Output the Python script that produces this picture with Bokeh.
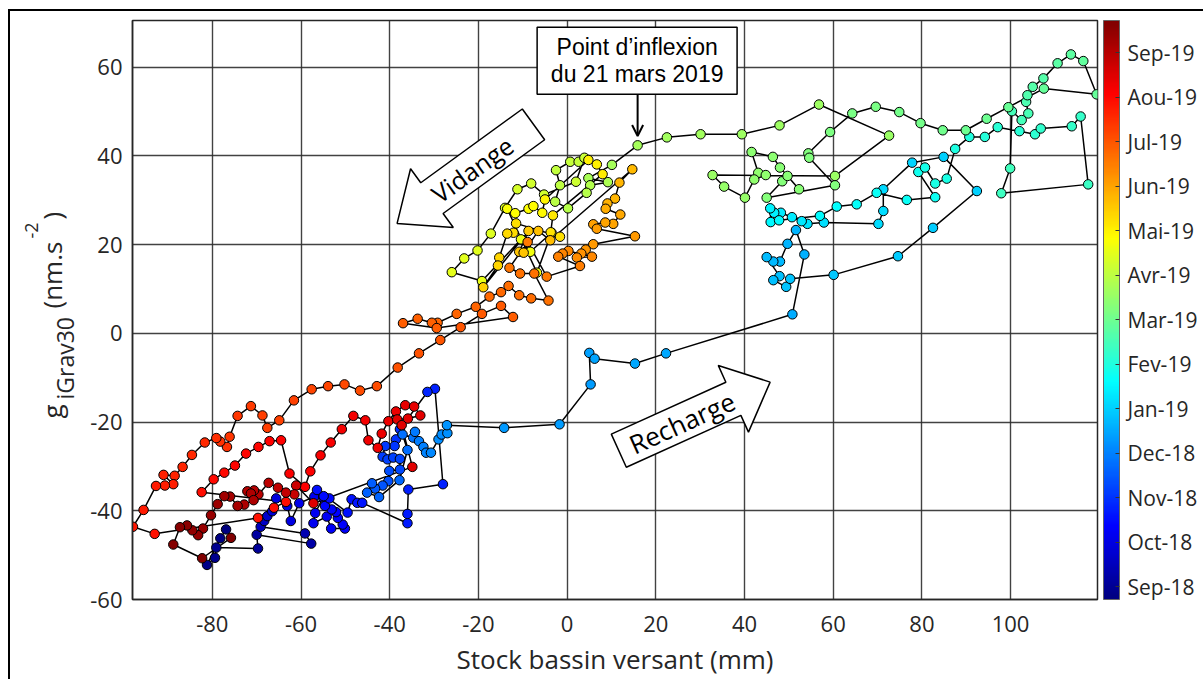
import math
import numpy as np
from bokeh.plotting import figure
from bokeh.layouts import row
from bokeh.core.properties import value
from bokeh.models import (Range1d, FixedTicker, ColumnDataSource, LinearColorMapper, ColorBar,
                          Label, PolyAnnotation, BoxAnnotation, Arrow, OpenHead)
from bokeh.embed import file_html
from bokeh.resources import INLINE

# ---- data: (stock bassin versant mm, g_iGrav30 nm/s2, months since 1 Sep 2018) ----
sep18 = [(-76.9,-44.2,-0.25),(-78.2,-46.2,-0.2),(-81.2,-52.2,-0.15),(-79.4,-50.6,-0.1),(-79.1,-48.3,-0.05),
         (-69.7,-48.5,0.05),(-70.0,-45.4,0.15),(-57.7,-47.4,0.25),(-59.1,-45.1,0.35),(-69.1,-43.6,0.5),
         (-68.3,-42.3,0.6),(-67.6,-41.2,0.7),(-66.5,-40.1,0.8),(-65.6,-37.2,0.9)]
oct18 = [(-63.1,-38.9,1.0),(-62.3,-42.3,1.03),(-60.4,-38.3,1.06),(-57.0,-36.8,1.09),(-55.0,-37.0,1.12),
         (-56.8,-40.5,1.15),(-57.2,-42.8,1.18),(-54.2,-41.3,1.21),(-53.2,-44.0,1.24),(-50.1,-44.0,1.27),
         (-50.6,-43.1,1.3),(-51.7,-41.6,1.33),(-52.1,-40.3,1.36),(-53.1,-39.7,1.39),(-54.6,-38.9,1.42),
         (-53.6,-37.2,1.45),(-54.9,-36.7,1.48),(-56.4,-35.3,1.51),(-49.5,-40.4,1.54),(-48.6,-37.4,1.57),
         (-47.3,-38.2,1.6),(-46.2,-38.2,1.63),(-36.0,-42.8,1.66),(-36.0,-40.7,1.69),(-35.8,-35.2,1.72),
         (-28.0,-34.0,1.75),(-29.8,-12.5,1.78),(-31.5,-13.2,1.81),(-37.7,-21.6,1.9),(-38.6,-23.9,1.95)]
nov18 = [(-38.9,-25.4,2.0),(-41.0,-25.4,2.05),(-41.6,-27.8,2.1),(-40.5,-28.4,2.15),(-39.2,-28.0,2.2),
         (-37.7,-28.3,2.25),(-37.7,-30.7,2.3),(-40.1,-31.0,2.35),(-40.3,-33.3,2.4),(-41.6,-34.3,2.45),
         (-43.3,-35.0,2.5),(-44.0,-33.8,2.55),(-45.1,-35.9,2.6),(-42.4,-36.9,2.65),(-37.8,-33.1,2.7),
         (-36.0,-26.3,2.75),(-37.1,-22.8,2.8),(-34.7,-23.5,2.85),(-34.3,-22.2,2.9),(-33.4,-24.3,2.95)]
dec18 = [(-32.4,-25.6,3.0),(-31.8,-26.9,3.04),(-30.7,-26.9,3.08),(-29.0,-23.9,3.12),(-28.3,-22.8,3.16),
         (-27.0,-22.5,3.2),(-27.1,-20.7,3.24),(-14.2,-21.3,3.28),(-1.7,-20.5,3.32),(5.3,-11.5,3.36),
         (5.0,-4.4,3.4),(6.2,-5.7,3.44),(15.3,-6.8,3.48),(22.3,-4.5,3.52),(50.8,4.3,3.56),
         (53.5,17.8,3.6),(51.6,23.3,3.63),(49.7,20.2,3.66),(48.0,16.2,3.69),(46.5,16.2,3.72),
         (45.0,17.2,3.75),(47.9,12.9,3.78),(46.5,12.0,3.81),(49.4,10.5,3.84),(50.3,12.3,3.87),
         (60.1,13.2,3.9),(74.6,17.4,3.93),(82.5,23.8,3.96),(92.4,32.1,3.99),(84.9,39.8,4.02),(77.8,38.5,4.05)]
jan19 = [(71.3,32.5,4.1),(71.3,27.6,4.14),(70.2,24.7,4.18),(57.9,25.0,4.22),(54.2,24.7,4.26),
         (52.9,25.3,4.3),(50.7,26.2,4.34),(48.2,27.2,4.38),(46.7,27.2,4.42),(45.8,28.2,4.46),
         (45.9,25.1,4.5),(47.8,25.5,4.54),(57.0,26.5,4.58),(60.8,28.6,4.62),(65.3,29.1,4.66),
         (69.8,31.7,4.7),(76.6,30.1,4.74),(83.0,30.7,4.78),(79.2,36.4,4.82),(80.7,37.4,4.86),
         (83.0,33.8,4.9),(85.6,34.9,4.94),(87.5,41.6,4.98)]
feb19 = [(90.7,44.3,5.02),(94.2,44.3,5.06),(97.1,46.5,5.1),(102.0,45.6,5.14),(105.5,44.9,5.18),
         (106.8,46.2,5.22),(113.8,46.7,5.26),(115.8,48.9,5.3),(117.5,33.6,5.34),(97.9,31.6,5.38),
         (99.9,37.2,5.42),(100.3,50.1,5.46),(102.5,48.1,5.5),(104.0,49.6,5.54),(103.5,52.2,5.58),
         (103.8,53.7,5.62),(105.0,55.6,5.66),(107.4,57.5,5.7),(110.6,60.9,5.74),(113.6,62.9,5.78),
         (116.4,61.4,5.82),(119.4,53.9,5.86),(107.5,55.2,5.9),(99.5,51.0,5.94),(94.6,48.4,5.98)]
mar19 = [(89.9,45.8,6.01),(84.7,45.8,6.04),(79.7,47.4,6.07),(74.9,49.9,6.1),(69.6,51.1,6.13),
         (64.3,49.6,6.16),(59.3,45.4,6.19),(54.4,40.6,6.22),(54.6,39.6,6.24),(60.4,33.4,6.26),
         (45.0,30.6,6.28),(48.5,34.3,6.3),(49.7,35.5,6.32),(52.3,32.5,6.34),(48.0,37.4,6.36),
         (46.4,39.8,6.38),(41.6,40.9,6.4),(43.1,36.2,6.42),(44.8,35.7,6.44),(42.2,34.7,6.46),
         (40.1,30.6,6.48),(35.4,33.1,6.5),(32.8,35.7,6.52),(60.4,35.5,6.54),(72.6,44.6,6.56),
         (56.8,51.6,6.58),(47.9,46.9,6.6),(39.4,44.9,6.62),(30.1,44.9,6.64),(22.5,44.2,6.66),(15.9,42.4,6.68)]
apr19 = [(10.1,38.0,6.72),(4.8,35.0,6.76),(9.2,34.1,6.8),(5.2,33.4,6.84),(4.4,31.7,6.88),
         (0.2,28.2,6.92),(-2.7,29.7,6.96),(-1.6,33.4,7.0),(-2.5,36.8,7.04),(0.7,38.7,7.08),
         (2.6,38.7,7.12),(3.9,39.6,7.16),(2.0,34.2,7.2),(-5.2,31.3,7.24),(-8.1,33.8,7.28),
         (-11.2,32.5,7.32),(-14.0,28.3,7.36),(-17.2,22.5,7.4),(-20.2,18.7,7.44),(-23.2,16.9,7.48),
         (-26.0,13.8,7.52),(-19.2,11.8,7.56),(-10.4,21.2,7.6),(-8.3,18.4,7.64),(-3.5,22.7,7.68),
         (-6.8,13.7,7.72),(-13.5,28.1,7.76),(-11.7,27.1,7.8),(-8.7,28.1,7.84),(-7.6,28.7,7.88),
         (-5.6,27.2,7.92),(-5.0,30.2,7.96)]
may19 = [(4.8,39.1,8.0),(6.7,38.1,8.04),(8.0,35.9,8.08),(-3.2,26.6,8.12),(-3.7,22.8,8.16),
         (-1.6,21.8,8.2),(-11.5,24.8,8.24),(-12.1,22.7,8.28),(-13.5,22.5,8.32),(-15.3,17.1,8.36),
         (-15.6,15.3,8.4),(-18.9,10.4,8.44),(-8.7,23.1,8.52),(-10.8,18.4,8.56),(-9.8,18.2,8.6),
         (-6.5,23.1,8.64),(-3.8,21.0,8.68),(14.7,37.0,8.72),(11.8,34.0,8.76),(10.8,30.4,8.8),
         (9.1,29.3,8.84),(8.7,28.1,8.88),(12.0,26.8,8.92),(10.4,24.7,8.96)]
jun19 = [(8.6,25.0,9.0),(5.9,24.6,9.04),(6.7,23.6,9.08),(15.3,21.9,9.12),(5.9,20.1,9.16),
         (4.2,18.9,9.2),(3.2,18.0,9.24),(2.2,17.1,9.28),(5.6,17.3,9.32),(0.3,18.6,9.36),
         (-1.0,18.0,9.4),(-2.0,17.3,9.44),(2.9,15.2,9.48),(-4.6,12.8,9.52),(-8.9,20.6,9.56),
         (-13.0,14.8,9.6),(-10.6,13.5,9.62),(-7.4,13.5,9.64),(-4.2,7.4,9.66),(-8.1,7.9,9.68),
         (-10.8,8.6,9.7),(-13.2,10.7,9.72),(-14.9,9.3,9.74),(-17.5,8.3,9.76),(-20.6,6.0,9.78),
         (-24.9,4.4,9.8),(-29.2,2.4,9.82),(-30.5,2.4,9.84),(-33.7,3.3,9.86),(-37.0,2.3,9.88),
         (-29.4,1.2,9.9),(-12.2,3.7,9.92),(-14.9,6.2,9.94),(-19.2,4.4,9.96),(-24.0,1.4,9.98)]
jul19 = [(-28.6,-1.5,10.0),(-33.4,-4.5,10.03),(-38.2,-7.7,10.06),(-42.9,-11.9,10.09),(-46.7,-12.9,10.12),
         (-50.2,-11.5,10.15),(-53.9,-11.9,10.18),(-57.6,-12.6,10.21),(-61.6,-15.1,10.24),(-64.9,-19.6,10.27),
         (-67.6,-21.3,10.3),(-68.7,-18.5,10.33),(-71.3,-16.4,10.36),(-74.3,-18.6,10.39),(-76.1,-23.3,10.42),
         (-76.7,-25.6,10.45),(-78.2,-24.4,10.48),(-79.1,-23.6,10.51),(-81.7,-24.6,10.54),(-84.6,-27.4,10.57),
         (-86.7,-30.1,10.6),(-88.5,-32.1,10.63),(-91.0,-31.9,10.66),(-88.8,-34.0,10.69),(-90.7,-34.3,10.72),
         (-92.7,-34.4,10.75),(-95.5,-39.8,10.78),(-97.9,-43.6,10.81),(-93.0,-45.2,10.84)]
aug19 = [(-69.7,-41.6,10.88),(-66.1,-39.3,10.9),(-63.4,-38.0,10.92),(-82.4,-35.8,10.94),(-79.7,-32.9,10.96),
         (-77.3,-31.4,10.98),(-74.9,-29.8,11.0),(-72.4,-27.1,11.02),(-69.6,-25.6,11.04),(-67.1,-24.3,11.06),
         (-64.5,-24.1,11.08),(-62.6,-31.6,11.1),(-59.1,-34.6,11.12),(-57.9,-31.1,11.14),(-55.6,-27.5,11.16),
         (-53.3,-24.6,11.18),(-50.8,-21.6,11.2),(-48.2,-18.6,11.22),(-45.5,-19.6,11.24),(-44.8,-24.1,11.26),
         (-42.7,-25.8,11.28),(-41.8,-22.6,11.3),(-40.3,-19.8,11.32),(-38.6,-17.6,11.34),(-36.5,-16.2,11.36),
         (-34.5,-16.5,11.38),(-33.1,-18.5,11.4),(-35.9,-19.2,11.42),(-38.3,-19.4,11.44),(-37.3,-20.7,11.46),
         (-34.9,-30.1,11.48),(-57.2,-38.3,11.5)]
sep19 = [(-61.1,-34.3,11.75),(-61.5,-36.3,11.79),(-63.4,-35.9,11.83),(-65.2,-34.8,11.87),(-67.3,-33.7,11.92),
         (-69.6,-36.3,11.96),(-70.6,-35.4,12.0),(-72.1,-35.6,12.04),(-71.3,-36.1,12.08),(-70.7,-37.6,12.12),
         (-72.8,-38.6,12.16),(-74.3,-38.9,12.2),(-76.0,-36.8,12.25),(-77.3,-36.7,12.29),(-78.8,-38.5,12.33),
         (-80.3,-41.0,12.37),(-82.1,-44.0,12.41),(-83.2,-45.5,12.45),(-84.5,-44.4,12.5),(-85.7,-43.3,12.54),
         (-87.3,-43.7,12.58),(-88.8,-47.6,12.62),(-82.3,-50.7,12.67),(-75.8,-46.1,12.72)]

x_ticks = [-80, -60, -40, -20, 0, 20, 40, 60, 80, 100]
y_ticks = [-60, -40, -20, 0, 20, 40, 60]
month_ticks = list(range(13))
month_labels = ["Sep-18", "Oct-18", "Nov-18", "Dec-18", "Jan-19", "Fev-19", "Mar-19",
                "Avr-19", "Mai-19", "Jun-19", "Jul-19", "Aou-19", "Sep-19"]
colorbar_low, colorbar_high = -0.29, 12.72
# y-axis title pieces: text, font size, baseline shift (main / sub / sup)
ytitle_parts = [("g", "26px", "main"), ("iGrav30", "23px", "sub"), ("(nm.s", "26px", "main"),
                ("-2", "18px", "sup"), (")", "26px", "main")]

obs = sep18 + oct18 + nov18 + dec18 + jan19 + feb19 + mar19 + apr19 + may19 + jun19 + jul19 + aug19 + sep19
src = ColumnDataSource(dict(x=[o[0] for o in obs], y=[o[1] for o in obs], t=[o[2] for o in obs]))

# ---- jet colormap ----
def jet(v):
    c = lambda a: min(max(a, 0.0), 1.0)
    r, g, b = c(1.5 - abs(4*v - 3)), c(1.5 - abs(4*v - 2)), c(1.5 - abs(4*v - 1))
    return "#%02x%02x%02x" % (int(round(r*255)), int(round(g*255)), int(round(b*255)))
jet256 = [jet(v) for v in np.linspace(0, 1, 256)]
mapper = LinearColorMapper(palette=jet256, low=colorbar_low, high=colorbar_high)

TXT = "#262626"
H = 668
YW = 70                      # width of the y-title strip
FL, FT, FW, FH = 122, 9, 965, 579
W = 1193 - YW

# ---- y-title strip (own figure so the rotated texts are not clipped) ----
# its frame is aligned with the main frame by the row layout -> pixel units from canvas bottom
fy = figure(width=YW, height=H, x_range=Range1d(0, YW), y_range=Range1d(H - FT - FH, H - FT),
            output_backend="svg", toolbar_location=None, title=None,
            x_axis_type=None, y_axis_type=None,
            min_border_left=0, min_border_right=0, min_border_top=FT, min_border_bottom=H - FT - FH)
fy.outline_line_color = None
fy.grid.visible = False
fy.background_fill_color = "white"
fy.border_fill_color = "white"
base_x = {"main": 41, "sub": 54, "sup": 21}
start_y = [261, 280, 371, 441, 460]
for (txt, fs, kind), sy in zip(ytitle_parts, start_y):
    fy.text(x=[base_x[kind]], y=[sy], text=[txt], angle=math.pi / 2, text_align="left",
            text_baseline="alphabetic", text_font=value("Open Sans"), text_font_size=value(fs),
            text_color=TXT)

# ---- main figure ----
p = figure(width=W, height=H, x_range=Range1d(-98.0, 119.6), y_range=Range1d(-60.0, 70.55),
           output_backend="svg", toolbar_location=None, title=None,
           min_border_left=FL - YW, min_border_top=FT, min_border_right=W - (FL - YW) - FW,
           min_border_bottom=H - FT - FH)
p.background_fill_color = "white"
p.border_fill_color = "white"
p.outline_line_color = TXT
p.outline_line_width = 1.5

p.xaxis.ticker = FixedTicker(ticks=x_ticks)
p.yaxis.ticker = FixedTicker(ticks=y_ticks)
p.xaxis.major_label_overrides = {t: str(t) for t in x_ticks}
p.yaxis.major_label_overrides = {t: str(t) for t in y_ticks}
for ax in (p.xaxis[0], p.yaxis[0]):
    ax.major_label_text_font = "Open Sans"
    ax.major_label_text_font_size = "22px"
    ax.major_label_text_color = TXT
    ax.axis_line_color = TXT
    ax.axis_line_width = 1.5
    ax.major_tick_out = 0
    ax.major_tick_in = 0
    ax.minor_tick_line_color = None
p.xaxis.major_label_standoff = 16
p.yaxis.major_label_standoff = 10
p.xaxis.axis_label = "Stock bassin versant (mm)"
p.xaxis.axis_label_text_font = "Open Sans"
p.xaxis.axis_label_text_font_size = "26px"
p.xaxis.axis_label_text_font_style = "normal"
p.xaxis.axis_label_text_color = TXT
p.xaxis.axis_label_standoff = 6
p.grid.grid_line_color = "#2e2e2e"
p.grid.grid_line_width = 1.4
p.grid.grid_line_alpha = 0.9

p.line("x", "y", source=src, line_color="black", line_width=1.5)
p.scatter("x", "y", source=src, marker="circle", size=9.5,
          fill_color={"field": "t", "transform": mapper}, line_color="black", line_width=1)

cb = ColorBar(color_mapper=mapper, ticker=FixedTicker(ticks=month_ticks),
              major_label_overrides={k: lab for k, lab in zip(month_ticks, month_labels)},
              width=16, height=FH, location=(FW + 6, 0), margin=0, padding=0,
              label_standoff=8, major_tick_in=4, major_tick_out=0, major_tick_line_color="#333333",
              minor_tick_line_color=None, bar_line_color="#666666", border_line_color=None,
              background_fill_color=None,
              major_label_text_font="Open Sans", major_label_text_font_size="21px",
              major_label_text_color=TXT)
p.add_layout(cb, "center")

# ---- annotations ----
def block_arrow(tail, tip, shaft_w, head_w, head_len):
    (x0, y0), (x1, y1) = tail, tip
    dx, dy = x1 - x0, y1 - y0
    L = math.hypot(dx, dy)
    ux, uy = dx / L, dy / L
    nx, ny = -uy, ux
    bx, by = x1 - ux * head_len, y1 - uy * head_len
    s, h = shaft_w / 2, head_w / 2
    xs = [x0 + nx*s, bx + nx*s, bx + nx*h, x1, bx - nx*h, bx - nx*s, x0 - nx*s]
    ys = [y0 + ny*s, by + ny*s, by + ny*h, y1, by - ny*h, by - ny*s, y0 - ny*s]
    return xs, ys

for tail, tip, sw, hw, hl in [((-7.58, 47.13), (-38.33, 24.80), 8.57, 16.4, 9.7),
                              ((11.66, -26.45), (45.78, -10.98), 8.2, 16.5, 9.1)]:
    xs, ys = block_arrow(tail, tip, sw, hw, hl)
    p.add_layout(PolyAnnotation(xs=xs, ys=ys, fill_color="white", fill_alpha=1.0,
                                line_color="black", line_alpha=1.0, line_width=1.5))

p.add_layout(Label(x=-21.4, y=37.0, text="Vidange", angle=math.radians(35.5), text_align="center",
                   text_baseline="middle", text_font="Open Sans", text_font_size="25px", text_color="black"))
p.add_layout(Label(x=25.9, y=-20.1, text="Recharge", angle=math.radians(24.4), text_align="center",
                   text_baseline="middle", text_font="Open Sans", text_font_size="26px", text_color="black"))

p.add_layout(BoxAnnotation(left=-6.76, right=38.33, bottom=53.9, top=69.0, fill_color="white",
                           fill_alpha=1.0, line_color="black", line_alpha=1.0, line_width=1.5))
p.add_layout(Label(x=15.8, y=64.5, text="Point d’inflexion", text_align="center", text_baseline="middle",
                   text_font="Liberation Sans", text_font_size="23px", text_color="black"))
p.add_layout(Label(x=15.8, y=58.4, text="du 21 mars 2019", text_align="center", text_baseline="middle",
                   text_font="Liberation Sans", text_font_size="23px", text_color="black"))
p.add_layout(Arrow(end=OpenHead(size=11, line_width=2, line_color="black"), x_start=15.9, y_start=53.9,
                   x_end=15.9, y_end=44.5, line_width=2, line_color="black"))

layout = row(fy, p, spacing=0,
             styles={"margin-left": "8px", "margin-top": "9px",
                     "border-left": "2px solid #000", "border-top": "2px solid #000"})

open("out.html", "w").write(file_html(layout, INLINE))
